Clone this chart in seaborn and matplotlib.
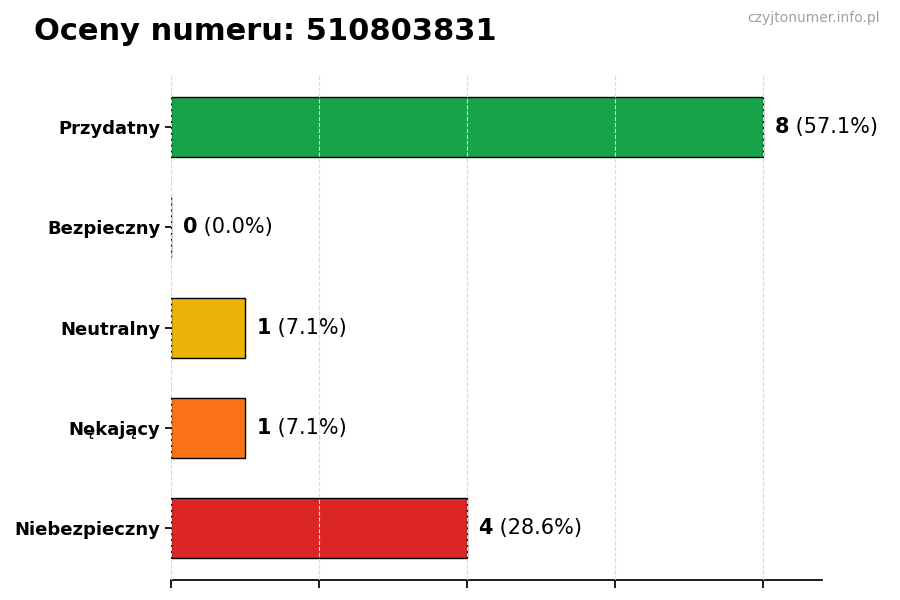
import pandas as pd, numpy as np
import seaborn as sns
import matplotlib.pyplot as plt

# --- dane ---
categories = ["Przydatny", "Bezpieczny", "Neutralny", "Nękający", "Niebezpieczny"]
counts = [8, 0, 1, 1, 4]
colors = ["#16a34a", "#22c55e", "#eab308", "#f97316", "#dc2626"]
title = "Oceny numeru: 510803831"
watermark = "czyjtonumer.info.pl"

df = pd.DataFrame({"cat": categories, "n": counts})
total = sum(counts)

sns.set_theme(style="white")
plt.rcParams["font.family"] = ["DejaVu Sans"]
plt.rcParams["text.color"] = "black"
plt.rcParams["xtick.color"] = "black"
plt.rcParams["ytick.color"] = "black"

fig = plt.figure(figsize=(9, 6), dpi=100)
ax = fig.add_axes([0.19, 0.033, 0.723, 0.842])

sns.barplot(data=df, y="cat", x="n", hue="cat", palette=colors, orient="h",
            width=0.6, saturation=1, edgecolor="black", linewidth=1,
            legend=False, ax=ax)

xmax = max(counts) * 1.1
ax.set_xlim(0, xmax)
ax.set_ylim(4.52, -0.52)
ax.set_xticks(np.arange(0, xmax, 2))
ax.set_xticklabels([])
ax.grid(axis="x", linestyle="--", color="#d9d9d9", linewidth=0.8)
ax.set_axisbelow(False)
ax.set_xlabel("")
ax.set_ylabel("")
ax.tick_params(axis="y", labelsize=13, length=4, left=True, color="black", labelcolor="black")
ax.tick_params(axis="x", length=6, bottom=True, color="black")
for lab in ax.get_yticklabels():
    lab.set_fontweight("bold")
for s in ["top", "right", "left"]:
    ax.spines[s].set_visible(False)
ax.spines["bottom"].set_color("black")

# etykiety: liczba (pogrubiona) + procent
for i, n in enumerate(counts):
    pct = n / total * 100
    t1 = ax.text(n + 0.16, i, f"{n}", fontsize=15, fontweight="bold", va="center", ha="left", color="black")
    ax.annotate(f" ({pct:.1f}%)", xy=(1, 0.5), xycoords=t1, va="center", ha="left", fontsize=15, color="black")

fig.text(0.038, 0.948, title, fontsize=22, fontweight="bold", va="center", ha="left", color="black")
fig.text(0.978, 0.97, watermark, fontsize=10, color="#a0a0a0", va="center", ha="right")

fig.savefig("out.png", dpi=100)
